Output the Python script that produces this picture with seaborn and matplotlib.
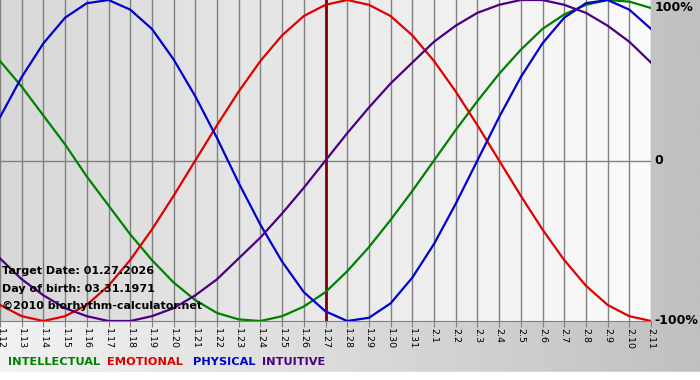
import numpy as np
import pandas as pd
import matplotlib
matplotlib.use("Agg")
import matplotlib.pyplot as plt
import seaborn as sns

# ---- data ----
dates = ["1.12", "1.13", "1.14", "1.15", "1.16", "1.17", "1.18", "1.19", "1.20", "1.21",
         "1.22", "1.23", "1.24", "1.25", "1.26", "1.27", "1.28", "1.29", "1.30", "1.31",
         "2.1", "2.2", "2.3", "2.4", "2.5", "2.6", "2.7", "2.8", "2.9", "2.10", "2.11"]

intellectual = [0.62, 0.46, 0.28, 0.10, -0.10, -0.28, -0.46, -0.62, -0.76, -0.87,
                -0.95, -0.99, -1.00, -0.97, -0.91, -0.82, -0.69, -0.54, -0.37, -0.19,
                0.00, 0.19, 0.37, 0.54, 0.69, 0.82, 0.91, 0.97, 1.00, 0.99, 0.95]
emotional = [-0.90, -0.97, -1.00, -0.97, -0.90, -0.78, -0.62, -0.43, -0.22, 0.00,
             0.22, 0.43, 0.62, 0.78, 0.90, 0.97, 1.00, 0.97, 0.90, 0.78,
             0.62, 0.43, 0.22, 0.00, -0.22, -0.43, -0.62, -0.78, -0.90, -0.97, -1.00]
physical = [0.27, 0.52, 0.73, 0.89, 0.98, 1.00, 0.94, 0.82, 0.63, 0.40,
            0.14, -0.14, -0.40, -0.63, -0.82, -0.94, -1.00, -0.98, -0.89, -0.73,
            -0.52, -0.27, 0.00, 0.27, 0.52, 0.73, 0.89, 0.98, 1.00, 0.94, 0.82]
intuitive = [-0.61, -0.74, -0.84, -0.92, -0.97, -1.00, -1.00, -0.97, -0.92, -0.84,
             -0.74, -0.61, -0.48, -0.33, -0.17, 0.00, 0.17, 0.33, 0.48, 0.61,
             0.74, 0.84, 0.92, 0.97, 1.00, 1.00, 0.97, 0.92, 0.84, 0.74, 0.61]

series_names = ["INTELLECTUAL", "EMOTIONAL", "PHYSICAL", "INTUITIVE"]
series_colors = ["#008000", "#e00000", "#0000d0", "#4b0082"]
target_label = "1.27"
info_lines = ["Target Date: 01.27.2026", "Day of birth: 03.31.1971",
              "\u00a92010 biorhythm-calculator.net"]
y_labels = ["100%", "0", "-100%"]

# ---- build table ----
rows = []
for name, vals in zip(series_names, [intellectual, emotional, physical, intuitive]):
    for i, v in enumerate(vals):
        rows.append({"day": i, "value": v, "series": name})
df = pd.DataFrame(rows)

W, H = 700, 380
fig = plt.figure(figsize=(W / 100, H / 100), dpi=100)

# outer background gradient
bg = fig.add_axes([0, 0, 1, 1], zorder=0)
grad = np.linspace(0, 1, 256)
cmap_outer = matplotlib.colors.LinearSegmentedColormap.from_list("o", ["#f2f2f2", "#dadada", "#c0c0c0"])
bg.imshow(grad[np.newaxis, :], aspect="auto", cmap=cmap_outer, extent=[0, 1, 8 / H, 1])
bg.axhspan(0, 8 / H, color="white")
bg.set_xlim(0, 1)
bg.set_ylim(0, 1)
bg.axis("off")

# main axes
left_px, right_px, top_px, bot_px = 0, 651, 0, 321
ax = fig.add_axes([left_px / W, (H - bot_px) / H, (right_px - left_px) / W, (bot_px - top_px) / H], zorder=1)
n = len(dates)
cmap_in = matplotlib.colors.LinearSegmentedColormap.from_list("i", ["#d8d8d8", "#fbfbfb"])
ax.imshow(grad[np.newaxis, :], aspect="auto", cmap=cmap_in, extent=[0, n - 1, -1, 1], zorder=0)

for i in range(n):
    ax.axvline(i, color="#808080", lw=1.0, zorder=1)
ax.axhline(0, color="#808080", lw=1.0, zorder=1)
ax.axvline(dates.index(target_label), color="#800000", lw=2.0, zorder=2)

sns.lineplot(data=df, x="day", y="value", hue="series", hue_order=series_names,
             palette=series_colors, linewidth=1.6, legend=False, ax=ax, zorder=3)

ax.set_xlim(0, n - 1)
ax.set_ylim(-1.0, 1.0)
ax.set_xlabel("")
ax.set_ylabel("")
for s in ["top", "left", "right"]:
    ax.spines[s].set_visible(False)
ax.spines["bottom"].set_color("#808080")
ax.set_xticks(range(n))
ax.set_xticklabels(dates, rotation=-90, fontsize=6.8, color="black", family="DejaVu Sans")
ax.tick_params(axis="x", length=4, color="#808080", pad=1)
ax.set_yticks([])
ax.set_clip_on(False)

# right-side labels
for lab, yv in zip(y_labels, [0.955, 0.0, -1.0]):
    ax.text(n - 1 + 0.15, yv, lab, fontsize=9, fontweight="bold", ha="left", va="center",
            color="black", clip_on=False)

# info text
for j, line in enumerate(info_lines):
    fig.text(2 / W, 1 - (271 + j * 17.5) / H, line, fontsize=8, fontweight="bold",
             ha="left", va="center", color="black", zorder=5)

# legend labels
legend_x = [8, 107, 193, 262]
for name, col, xp in zip(series_names, series_colors, legend_x):
    fig.text(xp / W, 1 - 362 / H, name, fontsize=8.2, fontweight="bold", color=col,
             ha="left", va="center", zorder=5)

fig.savefig("out.png", dpi=100)
